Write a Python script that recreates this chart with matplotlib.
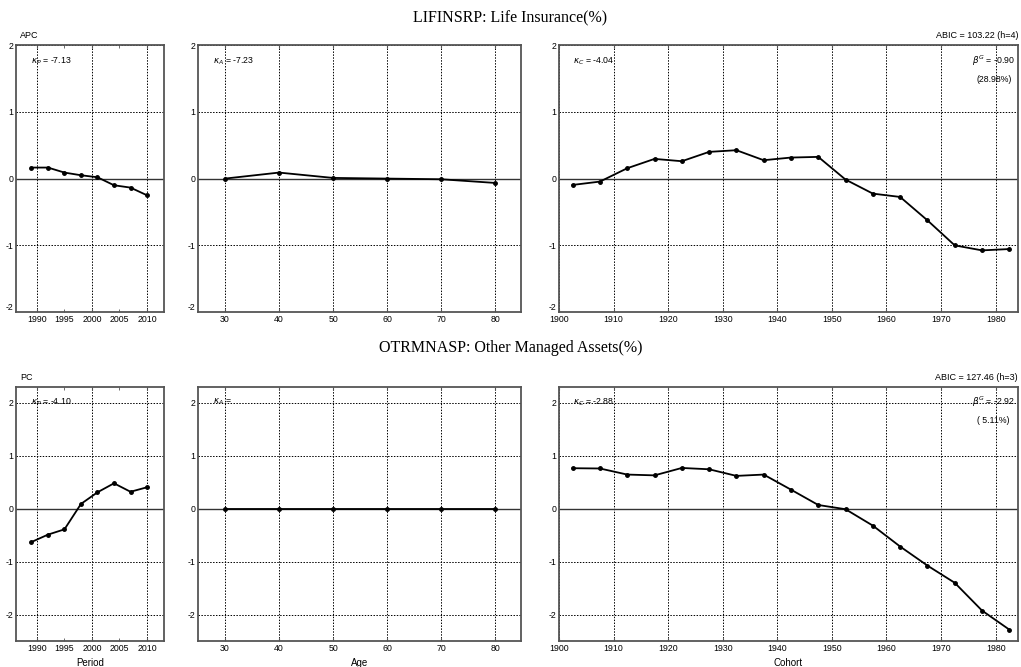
import matplotlib
matplotlib.use('Agg')
import matplotlib.pyplot as plt

# Data
period = [1989, 1992, 1995, 1998, 2001, 2004, 2007, 2010]
age = [30, 40, 50, 60, 70, 80]
cohort = [1902.5, 1907.5, 1912.5, 1917.5, 1922.5, 1927.5, 1932.5, 1937.5, 1942.5,
          1947.5, 1952.5, 1957.5, 1962.5, 1967.5, 1972.5, 1977.5, 1982.5]

life_period = [0.165, 0.165, 0.09, 0.05, 0.02, -0.10, -0.135, -0.25]
life_age = [0.0, 0.09, 0.01, 0.0, -0.01, -0.065]
life_cohort = [-0.095, -0.045, 0.155, 0.295, 0.26, 0.40, 0.425, 0.275, 0.315,
               0.325, -0.015, -0.225, -0.275, -0.625, -1.0, -1.075, -1.055]

other_period = [-0.63, -0.49, -0.39, 0.09, 0.31, 0.48, 0.32, 0.405]
other_age = [0.0, 0.0, 0.0, 0.0, 0.0, 0.0]
other_cohort = [0.765, 0.76, 0.645, 0.63, 0.77, 0.745, 0.62, 0.645, 0.36,
                0.07, -0.01, -0.32, -0.715, -1.075, -1.40, -1.925, -2.285]

period_major = [1990, 2000, 2010]
period_minor = [1995, 2005]
cohort_ticks = [1900, 1910, 1920, 1930, 1940, 1950, 1960, 1970, 1980]

rows = [
    {'title': 'LIFINSRP: Life Insurance(%)', 'model': 'APC', 'abic': 'ABIC = 103.22 (h=4)',
     'kp': ' = -7.13', 'ka': ' = -7.23', 'kc': ' = -4.04', 'beta': ' = -0.90', 'pct': '(28.98%)',
     'p': life_period, 'a': life_age, 'c': life_cohort, 'ylim': (-2, 2)},
    {'title': 'OTRMNASP: Other Managed Assets(%)', 'model': 'PC', 'abic': 'ABIC = 127.46 (h=3)',
     'kp': ' = -4.10', 'ka': ' =', 'kc': ' = -2.88', 'beta': ' = -2.92', 'pct': '( 5.11%)',
     'p': other_period, 'a': other_age, 'c': other_cohort, 'ylim': (-2.5, 2.3)},
]

plt.rcParams['font.family'] = ['Liberation Sans', 'DejaVu Sans']
plt.rcParams['axes.unicode_minus'] = False
fig = plt.figure(figsize=(10.21, 6.67), dpi=100)

row_boxes = [(0.532, 0.4005), (0.039, 0.3808)]
col_boxes = [(0.0157, 0.145), (0.1939, 0.3164), (0.5475, 0.4496)]
title_y = [0.973, 0.478]

spine_col = '#555555'
fs = 6.3
dots = (0, (1.5, 1.5))


def style_axes(ax, ylim):
    ax.set_ylim(*ylim)
    ax.set_yticks([-2, -1, 0, 1, 2])
    for s in ax.spines.values():
        s.set_color(spine_col)
        s.set_linewidth(1.3)
    ax.tick_params(axis='both', which='both', direction='in', length=2.5,
                   labelsize=fs, color=spine_col, top=True, pad=2)
    ax.tick_params(axis='y', which='both', right=False, length=0)
    ax.grid(True, which='major', axis='x', linestyle=dots, color='black', linewidth=0.7)
    for yv in [-2, -1, 1, 2]:
        ax.axhline(yv, linestyle=dots, color='black', linewidth=0.7, zorder=1)
    ax.axhline(0, color='#333333', linewidth=1.0, zorder=1)
    ax.set_axisbelow(True)
    # keep the bottom "-2" clear of the first x label when it sits on the edge
    if ylim[0] == -2:
        ax.get_yticklabels()[0].set_verticalalignment('bottom')


def draw_line(ax, x, y):
    ax.plot(x, y, color='black', lw=1.3, marker='o', ms=2.5)


for r, row in enumerate(rows):
    yb, h = row_boxes[r]
    fig.text(0.5, title_y[r], row['title'], ha='center', va='center',
             family='Liberation Serif', fontsize=11.5)

    # period
    ax = fig.add_axes([col_boxes[0][0], yb, col_boxes[0][1], h])
    draw_line(ax, period, row['p'])
    ax.set_xlim(1986.2, 2013.1)
    ax.set_xticks(period_major)
    ax.set_xticks(period_minor, minor=True)
    ax.set_xticklabels([str(v) for v in period_major])
    ax.set_xticklabels([str(v) for v in period_minor], minor=True)
    style_axes(ax, row['ylim'])
    ax.text(0.03, 1.02, row['model'], transform=ax.transAxes, fontsize=6.5, ha='left', va='bottom')
    ax.text(0.1, 0.94, r'$\kappa_P$' + row['kp'], transform=ax.transAxes, fontsize=fs, va='center')
    if r == 1:
        ax.set_xlabel('Period', fontsize=7, labelpad=4)

    # age
    ax = fig.add_axes([col_boxes[1][0], yb, col_boxes[1][1], h])
    draw_line(ax, age, row['a'])
    ax.set_xlim(25, 84.8)
    ax.set_xticks(age)
    style_axes(ax, row['ylim'])
    ax.text(0.045, 0.94, r'$\kappa_A$' + row['ka'], transform=ax.transAxes, fontsize=fs, va='center')
    if r == 1:
        ax.set_xlabel('Age', fontsize=7, labelpad=4)

    # cohort
    ax = fig.add_axes([col_boxes[2][0], yb, col_boxes[2][1], h])
    draw_line(ax, cohort, row['c'])
    ax.set_xlim(1900, 1984.1)
    ax.set_xticks(cohort_ticks)
    style_axes(ax, row['ylim'])
    ax.text(0.03, 0.94, r'$\kappa_C$' + row['kc'], transform=ax.transAxes, fontsize=fs, va='center')
    ax.text(0.9, 0.94, r'$\beta^G$' + row['beta'], transform=ax.transAxes, fontsize=fs, va='center')
    ax.text(0.91, 0.87, row['pct'], transform=ax.transAxes, fontsize=fs, va='center')
    ax.text(1.0, 1.02, row['abic'], transform=ax.transAxes, fontsize=6.5, ha='right', va='bottom')
    if r == 1:
        ax.set_xlabel('Cohort', fontsize=7, labelpad=4)

fig.savefig('out.png', dpi=100)
